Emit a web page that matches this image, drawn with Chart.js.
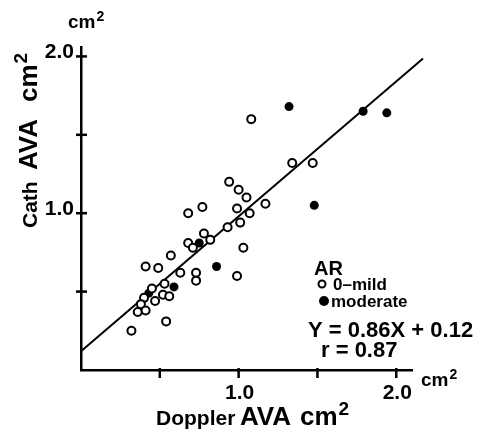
<!DOCTYPE html>
<html>
<head>
<meta charset="utf-8">
<script src="https://cdn.jsdelivr.net/npm/chart.js@4.4.1/dist/chart.umd.min.js"></script>
<style>
  body { margin: 0; background: #fff; }
  #wrap { width: 483px; height: 433px; }
</style>
</head>
<body>
<div id="wrap"><canvas id="canvas" width="483" height="433"></canvas></div>
<script>
// data (cm2)
var mildX = [1.08, 1.34, 1.47, 0.94, 1.00, 1.05, 1.17, 0.77, 0.68, 0.99, 1.07, 1.01, 0.93, 0.78, 0.82, 0.68, 0.71, 1.03,
  0.57, 0.41, 0.49, 0.63, 0.73, 0.73, 0.99, 0.45, 0.53, 0.40, 0.52, 0.56, 0.47, 0.38, 0.36, 0.41, 0.54, 0.32];
var mildY = [1.60, 1.32, 1.32, 1.20, 1.15, 1.10, 1.06, 1.04, 1.00, 1.03, 1.00, 0.94, 0.91, 0.87, 0.83, 0.81, 0.78, 0.78,
  0.73, 0.66, 0.65, 0.62, 0.62, 0.57, 0.60, 0.52, 0.55, 0.46, 0.48, 0.47, 0.44, 0.42, 0.37, 0.38, 0.31, 0.25];
var modX = [1.32, 1.79, 1.94, 1.48, 0.86, 0.75, 0.59, 0.43];
var modY = [1.68, 1.65, 1.64, 1.05, 0.66, 0.81, 0.53, 0.49];

// regression line Y = 0.86X + 0.12, drawn from x=0 to x=2.17
var slope = 0.86;
var intercept = 0.12;
var lineX = [0, 2.17];

var tickVals = [0.5, 1.0, 1.5, 2.0];
var tickLabels = ['', '1.0', '', '2.0'];

function pts(xs, ys) {
  return xs.map(function (x, i) { return { x: x, y: ys[i] }; });
}

var FONT = '"Liberation Sans", Arial, sans-serif';

// "cm" with a raised 2, returns the width used
function unit(ctx, x, y, size) {
  ctx.font = 'bold ' + size + 'px ' + FONT;
  ctx.fillText('cm', x, y);
  var w = ctx.measureText('cm').width;
  ctx.font = 'bold ' + Math.round(size * 0.72) + 'px ' + FONT;
  ctx.fillText('2', x + w + 1, y - size * 0.38);
  return w + 1 + ctx.measureText('2').width;
}

// ticks, tick labels, axis titles and the legend text
var textPlugin = {
  id: 'textPlugin',
  afterDraw: function (chart) {
    var ctx = chart.ctx;
    var xs = chart.scales.x;
    var ys = chart.scales.y;
    var ax = xs.left;
    var ay = ys.bottom;
    ctx.save();
    ctx.strokeStyle = '#000';
    ctx.fillStyle = '#000';
    ctx.lineWidth = 2.5;
    ctx.textBaseline = 'alphabetic';

    // tick marks crossing the axes
    tickVals.forEach(function (v, i) {
      var py = ys.getPixelForValue(v);
      ctx.beginPath();
      ctx.moveTo(ax - 5, py);
      ctx.lineTo(ax + 6, py);
      ctx.stroke();
      var px = xs.getPixelForValue(v);
      ctx.beginPath();
      ctx.moveTo(px, ay - 2);
      ctx.lineTo(px, ay + 8);
      ctx.stroke();
      if (tickLabels[i]) {
        ctx.font = 'bold 21px ' + FONT;
        ctx.textAlign = 'right';
        ctx.fillText(tickLabels[i], ax - 7, py + 2);
        ctx.textAlign = 'center';
        ctx.fillText(tickLabels[i], px + 1, 399);
      }
    });

    // unit labels at the ends of the axes
    ctx.textAlign = 'left';
    unit(ctx, 68, 28, 19);
    unit(ctx, 421, 386, 19);

    // x axis title
    ctx.font = 'bold 21px ' + FONT;
    ctx.fillText('Doppler', 156, 425);
    ctx.font = 'bold 26px ' + FONT;
    ctx.fillText('AVA', 240, 425);
    unit(ctx, 300, 425, 26);

    // y axis title, rotated
    ctx.save();
    ctx.translate(37, 228);
    ctx.rotate(-Math.PI / 2);
    ctx.font = 'bold 21px ' + FONT;
    ctx.fillText('Cath', 0, 0);
    ctx.font = 'bold 26px ' + FONT;
    ctx.fillText('AVA', 58, 0);
    unit(ctx, 126, 0, 26);
    ctx.restore();

    // legend block
    ctx.font = 'bold 20px ' + FONT;
    ctx.fillText('AR', 314, 275);
    ctx.font = 'bold 17px ' + FONT;
    ctx.fillText('0\u2013mild', 333, 290);
    ctx.fillText('moderate', 331, 307);
    ctx.beginPath();
    ctx.lineWidth = 2;
    ctx.fillStyle = '#fff';
    ctx.arc(322, 284, 3.5, 0, Math.PI * 2);
    ctx.fill();
    ctx.stroke();
    ctx.fillStyle = '#000';
    ctx.beginPath();
    ctx.arc(324, 301, 5, 0, Math.PI * 2);
    ctx.fill();
    ctx.font = 'bold 22px ' + FONT;
    ctx.fillText('Y = 0.86X + 0.12', 308, 337);
    ctx.fillText('r = 0.87', 321, 357);
    ctx.restore();
  }
};

const data = {
  datasets: [
    {
      label: '0-mild',
      data: pts(mildX, mildY),
      pointRadius: 4,
      pointBorderWidth: 2,
      pointBackgroundColor: '#fff',
      pointBorderColor: '#000',
      order: 1,
    },
    {
      label: 'moderate',
      data: pts(modX, modY),
      pointRadius: 4.5,
      pointBorderWidth: 0,
      pointBackgroundColor: '#000',
      pointBorderColor: '#000',
      order: 1,
    },
    {
      type: 'line',
      label: 'fit',
      data: lineX.map(function (x) { return { x: x, y: slope * x + intercept }; }),
      borderColor: '#000',
      borderWidth: 2,
      pointRadius: 0,
      showLine: true,
      clip: false,
      order: 2,
    },
  ],
};

const config = {
  type: 'scatter',
  data,
  options: {
    responsive: false,
    animation: false,
    layout: { padding: { left: 73, right: 71, top: 47, bottom: 55 } },
    plugins: { legend: { display: false }, tooltip: { enabled: false } },
    scales: {
      x: {
        type: 'linear', min: 0, max: 2.1,
        grid: { display: false },
        ticks: { display: false },
        border: { display: true, color: '#000', width: 2.5 },
      },
      y: {
        type: 'linear', min: 0, max: 2.06,
        grid: { display: false },
        ticks: { display: false },
        border: { display: true, color: '#000', width: 2.5 },
      },
    },
  },
  plugins: [textPlugin],
};

let myChart = new Chart(document.getElementById('canvas'), config);
</script>
</body>
</html>
